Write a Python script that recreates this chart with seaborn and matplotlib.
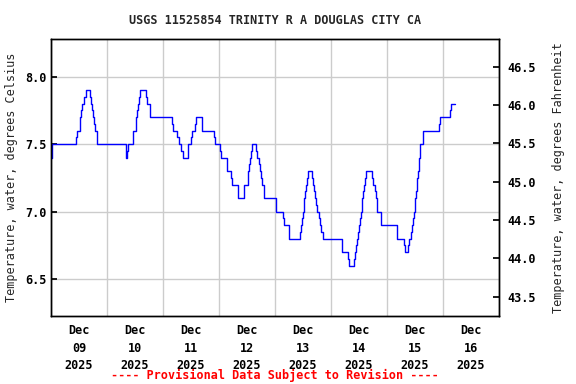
import pandas as pd
import numpy as np
import matplotlib
matplotlib.use("Agg")
import matplotlib.pyplot as plt
import matplotlib.dates as mdates
import seaborn as sns

# ── Data: change points of the 15-min record (hours after 2025-12-09 00:00, deg C) ──
START = pd.Timestamp("2025-12-09 00:00")
HOURS = [
    0.0, 0.3, 10.7, 11.1, 12.4, 12.8, 13.2, 14.1, 15.0, 16.7, 17.1, 17.5, 17.9,
    18.5, 19.0, 19.8, 32.0, 32.5, 32.9, 35.0, 36.3, 36.7, 37.2, 37.6, 38.2,
    40.6, 41.0, 42.3, 51.8, 52.3, 54.1, 54.7, 55.9, 56.4, 58.9, 60.0, 60.3,
    61.5, 62.1, 64.5, 64.9, 69.8, 70.2, 72.3, 72.9, 75.6, 77.2, 77.6, 80.0,
    82.9, 84.4, 84.9, 85.3, 85.7, 86.2, 87.9, 88.4, 89.0, 89.4, 90.1, 90.6,
    91.2, 96.3, 99.4, 100.0, 102.0, 106.7, 107.2, 107.7, 108.1, 108.5, 109.0,
    109.4, 109.8, 110.2, 111.8, 112.3, 112.7, 113.2, 113.7, 114.2, 114.9,
    115.3, 115.7, 116.4, 124.9, 127.2, 127.6, 129.8, 130.3, 130.8, 131.2,
    131.6, 132.0, 132.5, 132.9, 133.3, 133.8, 134.2, 134.6, 135.0, 137.6,
    138.0, 138.8, 139.3, 139.7, 141.3, 148.4, 151.4, 151.9, 152.9, 153.3,
    154.3, 154.8, 155.3, 155.7, 156.1, 156.5, 156.9, 157.3, 157.7, 158.2,
    159.6, 166.3, 166.7, 171.0, 171.4, 173.1,
]
TEMP_C = [
    7.40, 7.50, 7.55, 7.60, 7.70, 7.75, 7.80, 7.85, 7.90, 7.85, 7.80, 7.75, 7.70,
    7.65, 7.60, 7.50, 7.40, 7.45, 7.50, 7.60, 7.70, 7.75, 7.80, 7.85, 7.90,
    7.85, 7.80, 7.70, 7.65, 7.60, 7.55, 7.50, 7.45, 7.40, 7.50, 7.55, 7.60,
    7.65, 7.70, 7.65, 7.60, 7.55, 7.50, 7.45, 7.40, 7.30, 7.25, 7.20, 7.10,
    7.20, 7.30, 7.35, 7.40, 7.45, 7.50, 7.45, 7.40, 7.35, 7.30, 7.25, 7.20,
    7.10, 7.00, 6.95, 6.90, 6.80, 6.85, 6.90, 6.95, 7.00, 7.10, 7.15,
    7.20, 7.25, 7.30, 7.25, 7.20, 7.15, 7.10, 7.05, 7.00, 6.95,
    6.90, 6.85, 6.80, 6.70, 6.65, 6.60, 6.65, 6.70, 6.75, 6.80,
    6.85, 6.90, 6.95, 7.00, 7.10, 7.15, 7.20, 7.25, 7.30, 7.25,
    7.20, 7.15, 7.10, 7.00, 6.90, 6.80, 6.75, 6.70, 6.75, 6.80,
    6.85, 6.90, 6.95, 7.00, 7.10, 7.15, 7.25, 7.30, 7.40, 7.50,
    7.60, 7.65, 7.70, 7.75, 7.80, 7.80,
]
C_TICKS = [6.5, 7.0, 7.5, 8.0]
F_TICKS = [43.5, 44.0, 44.5, 45.0, 45.5, 46.0, 46.5]

TITLE = "USGS 11525854 TRINITY R A DOUGLAS CITY CA"
NOTE = "---- Provisional Data Subject to Revision ----"

df = pd.DataFrame({
    "time": START + pd.to_timedelta(HOURS, unit="h"),
    "temp": TEMP_C,
})

# ── Style ─────────────────────────────────────────────────────────────────────
sns.set_theme(style="white")
plt.rcParams.update({
    "font.family": ["DejaVu Sans Mono"],
    "font.weight": "bold",
    "font.size": 8.5,
    "axes.edgecolor": "black",
    "axes.linewidth": 1.0,
    "xtick.color": "black",
    "ytick.color": "black",
})

fig = plt.figure(figsize=(5.76, 3.84), dpi=100)
ax = fig.add_axes([51 / 576, 1 - 316 / 384, 448 / 576, 277 / 384])

sns.lineplot(data=df, x="time", y="temp", ax=ax, color="#0000ff",
             linewidth=1.0, drawstyle="steps-post", estimator=None)

ax.set_xlim(START, START + pd.Timedelta(days=8))
ax.set_ylim(6.2255, 8.28)
ax.set_yticks(C_TICKS)
ax.yaxis.set_major_formatter(matplotlib.ticker.FormatStrFormatter("%.1f"))

ax.xaxis.set_major_locator(mdates.DayLocator())
ax.xaxis.set_major_formatter(matplotlib.ticker.NullFormatter())
ax.xaxis.set_minor_locator(mdates.HourLocator(byhour=12))
ax.xaxis.set_minor_formatter(mdates.DateFormatter("%b\n%d\n%Y"))
ax.tick_params(axis="x", which="both", length=0, pad=6)
ax.tick_params(axis="x", which="minor", labelsize=8.5)
for lbl in ax.get_xticklabels(minor=True):
    lbl.set_linespacing(1.45)
ax.tick_params(axis="y", direction="in", length=4, labelsize=8.5)

ax.grid(True, which="major", color="#cccccc", linewidth=1.0)
ax.set_axisbelow(True)
ax.set_xlabel("")
ax.set_ylabel("Temperature, water, degrees Celsius", fontsize=8.5, labelpad=5)

ax2 = ax.twinx()
ax2.set_ylim(43.248, 46.861)
ax2.set_yticks(F_TICKS)
ax2.yaxis.set_major_formatter(matplotlib.ticker.FormatStrFormatter("%.1f"))
ax2.tick_params(axis="y", direction="in", length=4, labelsize=8.5, pad=6)
ax2.set_ylabel("Temperature, water, degrees Fahrenheit", fontsize=8.5, labelpad=12)
ax2.grid(False)

fig.text(275 / 576, 1 - 20 / 384, TITLE, ha="center", va="center", fontsize=8.5)
fig.text(275 / 576, 1 - 375 / 384, NOTE, ha="center", va="center",
         fontsize=8.5, color="#ff0000")

fig.savefig("out.png", dpi=100, facecolor="white")
